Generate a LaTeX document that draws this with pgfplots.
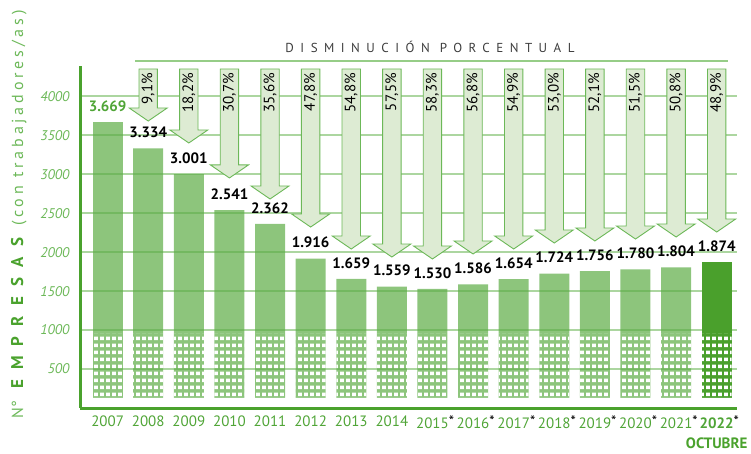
\documentclass[border=0pt]{standalone}
\usepackage{pgfplots}
\pgfplotsset{compat=1.18}
\usepackage{fontspec}
\setmainfont{PT Sans}
\usetikzlibrary{patterns}

\definecolor{barg}{RGB}{92,172,69}
\definecolor{bartwo}{RGB}{74,160,44}
\definecolor{gridg}{RGB}{172,214,160}
\definecolor{axisg}{RGB}{74,162,45}
\definecolor{tickg}{RGB}{108,184,88}
\definecolor{yearg}{RGB}{80,165,55}
\definecolor{arrowfill}{RGB}{221,235,211}
\definecolor{arrowdraw}{RGB}{108,184,88}
\definecolor{lineg}{RGB}{150,205,135}
\definecolor{titlegray}{RGB}{60,60,60}

\pgfdeclarepatternformonly{windows}{\pgfqpoint{0pt}{0pt}}{\pgfqpoint{5.8pt}{7pt}}{\pgfqpoint{5.8pt}{7pt}}{%
  \pgfpathrectangle{\pgfqpoint{1.1pt}{2pt}}{\pgfqpoint{4pt}{4pt}}\pgfusepath{fill}}

\newcommand\yst{\rlap{\raisebox{2pt}{\textcolor{black}{*}}}}

\tikzset{pct/.style={rotate=90, anchor=east, inner sep=0pt, font=\fontsize{15}{15}\selectfont, text=black}}

\begin{document}
\begin{tikzpicture}
\useasboundingbox (-80pt,-45pt) rectangle (671pt,408pt);
\begin{axis}[
  at={(0pt,0pt)}, anchor=south west,
  scale only axis, width=657pt, height=342pt,
  xmin=-0.68, xmax=15.5, ymin=0, ymax=4390,
  axis x line*=bottom, axis y line*=left,
  axis line style={-},
  y axis line style={draw=axisg, line width=3pt},
  x axis line style={draw=none},
  ytick={500,1000,...,4000},
  xtick={0,...,15},
  major tick length=0pt,
  ymajorgrids,
  major grid style={draw=gridg, line width=1.8pt},
  /pgf/number format/assume math mode=true,
  yticklabel style={font=\itshape\fontsize{14}{14}\selectfont, text=tickg, /pgf/number format/1000 sep={}, xshift=-7pt},
  xticklabels={2007,2008,2009,2010,2011,2012,2013,2014,2015\yst,2016\yst,2017\yst,2018\yst,2019\yst,2020\yst,2021\yst,{\textbf{2022}\yst\\\textcolor{axisg}{\textbf{OCTUBRE}}}},
  xticklabel style={font=\fontsize{15}{20}\selectfont, text=yearg, align=center, yshift=-4pt},
  clip=false,
  ylabel={\fontsize{16}{16}\selectfont\textcolor{tickg}{N°}\hspace{12pt}\textcolor{axisg}{\fontsize{17}{17}\selectfont\bfseries\addfontfeatures{LetterSpace=60}EMPRESAS}\hspace{12pt}\textcolor{tickg}{\addfontfeatures{LetterSpace=24}(con trabajadores/as)}},
  every axis y label/.style={at={(axis description cs:-0.093,0.566)}, anchor=center, rotate=90},
]
% bars
\addplot[ybar, bar width=30pt, bar shift=0pt, draw=none, fill=barg, fill opacity=0.7,
  nodes near coords={\pgfmathprintnumber[1000 sep={.}]{\pgfplotspointmeta}},
  every node near coord/.style={text=yearg, text opacity=1, font=\bfseries\fontsize{15}{15}\selectfont, yshift=7pt}]
  coordinates {(0,3669)};
\addplot[ybar, bar width=30pt, bar shift=0pt, draw=none, fill=barg, fill opacity=0.7,
  nodes near coords={\pgfmathprintnumber[1000 sep={.}]{\pgfplotspointmeta}},
  every node near coord/.style={text=black, text opacity=1, font=\bfseries\fontsize{15}{15}\selectfont, yshift=7pt}]
  coordinates {(1,3334)(2,3001)(3,2541)(4,2362)(5,1916)(6,1659)(7,1559)(8,1530)(9,1586)(10,1654)(11,1724)(12,1756)(13,1780)(14,1804)};
\addplot[ybar, bar width=30pt, bar shift=0pt, draw=none, fill=bartwo,
  nodes near coords={\pgfmathprintnumber[1000 sep={.}]{\pgfplotspointmeta}},
  every node near coord/.style={text=black, font=\bfseries\fontsize{15}{15}\selectfont, yshift=7pt}]
  coordinates {(15,1874)};
% windows
\addplot[ybar, bar width=30pt, bar shift=0pt, draw=none, pattern=windows, pattern color=white]
  coordinates {(0,960)(1,960)(2,960)(3,960)(4,960)(5,960)(6,960)(7,960)(8,960)(9,960)(10,960)(11,960)(12,960)(13,960)(14,960)(15,960)};
% gap under bars
\addplot[ybar, bar width=32pt, bar shift=0pt, draw=none, fill=white]
  coordinates {(0,130)(1,130)(2,130)(3,130)(4,130)(5,130)(6,130)(7,130)(8,130)(9,130)(10,130)(11,130)(12,130)(13,130)(14,130)(15,130)};
% bottom axis line
\addplot[draw=axisg, line width=3pt] coordinates {(-0.68,0) (15.5,0)};
% top line
\addplot[draw=lineg, line width=2pt] coordinates {(0.675,4454) (15.28,4454)};
\node[font=\fontsize{13}{13}\selectfont, text=titlegray] at (axis cs:7.94,4634) {\addfontfeatures{LetterSpace=50}DISMINUCIÓN PORCENTUAL};
% arrows
\foreach \i/\t/\p in {1/3684/{9,1},2/3402/{18,2},3/2953/{30,7},4/2683/{35,6},5/2323/{47,8},6/2041/{54,8},7/1938/{57,5},8/1913/{58,3},9/1977/{56,8},10/2041/{54,9},11/2118/{53,0},12/2144/{52,1},13/2169/{51,5},14/2195/{50,8},15/2259/{48,9}}{
  \pgfmathsetmacro\xl{\i-0.227}
  \pgfmathsetmacro\xr{\i+0.227}
  \pgfmathsetmacro\xL{\i-0.468}
  \pgfmathsetmacro\xR{\i+0.468}
  \pgfmathsetmacro\hb{\t+167}
  \edef\temp{\noexpand\addplot[draw=arrowdraw, fill=arrowfill, line width=0.9pt, line join=miter] coordinates {(\xl,4352) (\xr,4352) (\xr,\hb) (\xR,\hb) (\i,\t) (\xL,\hb) (\xl,\hb)} -- cycle;
  \noexpand\node[pct] at (axis cs:\i,4300) {\p\noexpand\%};}
  \temp
}
\end{axis}
\end{tikzpicture}
\end{document}
